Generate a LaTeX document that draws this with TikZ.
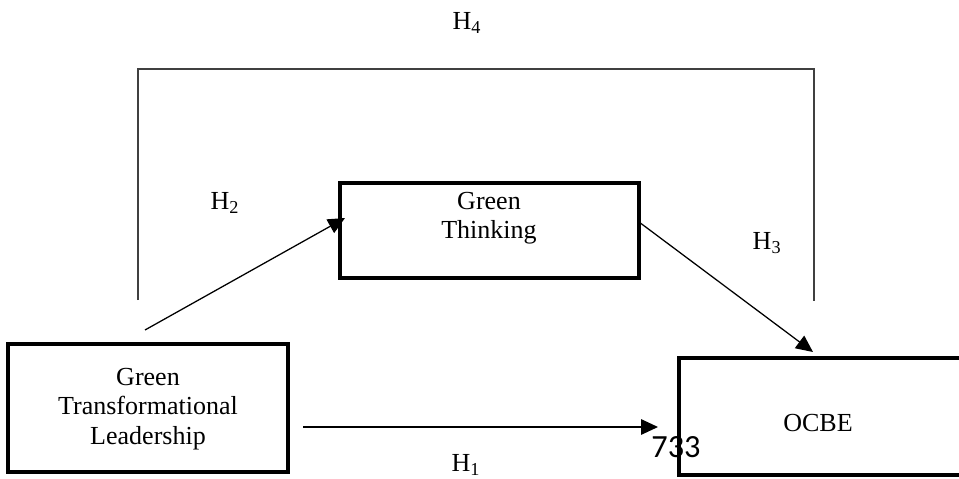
\documentclass[tikz,border=0pt]{standalone}
\usepackage{fontspec}
\setmainfont{Liberation Serif}
\newfontfamily\pagenumfont{Carlito}
\usetikzlibrary{arrows.meta}

\begin{document}
\begin{tikzpicture}[
x=0.025cm, y=-0.025cm,
font=\fontsize{18.5}{21}\selectfont,
varbox/.style={
rectangle,
draw,
line width=2.3pt,
inner sep=0 pt,
},
boxtext/.style={align=center, inner sep=0 pt},
hyplabel/.style={inner sep=0 pt},
link/.style={line width=0.9pt, -{Triangle[length=12pt, width=11pt]}},
bracket/.style={line width=0.8pt, black!75},
]

\useasboundingbox (0,0) rectangle (959,479);

% boxes
\node [varbox, minimum width=7 cm, minimum height=3.2 cm] at (148,408) (gtl) {};
\node [varbox, minimum width=7.475 cm, minimum height=2.375 cm] at (489.5,230.5) (gt) {};
\node [varbox, minimum width=7.15 cm, minimum height=2.925 cm] at (822,416.5) (ocbe) {};

% box texts
\node [boxtext] at (148,409) (gtltext) {Green\\Transformational\\Leadership};
\node [boxtext] at (489,218) (gttext) {Green\\Thinking};
\node [boxtext] at (818,423) (ocbetext) {OCBE};

\path
% arrow ends
(145,330) coordinate(h2start)
(345,218) coordinate(h2end)
(639,222) coordinate(h3start)
(813,352) coordinate(h3end)
(303,427) coordinate(h1start)
(658,427) coordinate(h1end)
% bracket corners
(138,300) coordinate(b1)
(138,69) coordinate(b2)
(814,69) coordinate(b3)
(814,301) coordinate(b4)
;

% paths
\draw [link] (h2start) -- (h2end);
\draw [link] (h3start) -- (h3end);
\draw [link] (h1start) -- (h1end);

% indirect path
\draw [bracket] (b1) -- (b2) -- (b3) -- (b4);

% hypothesis labels
\path[every node/.style={hyplabel}]
(467,23) node (h4) {H\textsubscript{4}}
(225,203) node (h2) {H\textsubscript{2}}
(767,243) node (h3) {H\textsubscript{3}}
(466,465) node (h1) {H\textsubscript{1}}
;

\node [inner sep=0 pt, font=\pagenumfont\fontsize{23}{27}\selectfont] at (676,447) (pagenum) {733};

\end{tikzpicture}
\end{document}
